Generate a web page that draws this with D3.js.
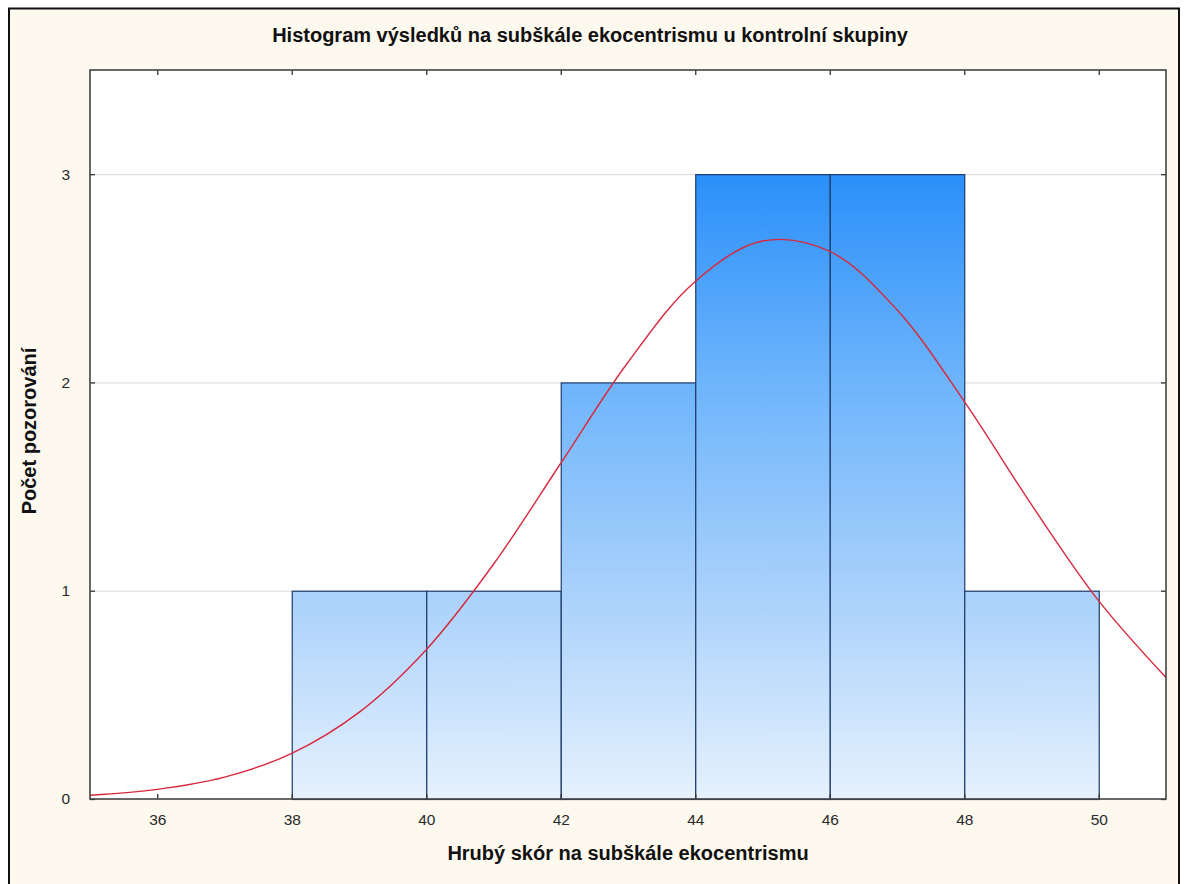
<!DOCTYPE html>
<html><head><meta charset="utf-8">
<script src="https://cdn.jsdelivr.net/npm/d3@7/dist/d3.min.js"></script>
<style>body{margin:0;background:#fff}svg{display:block}text{font-family:"Liberation Sans",Arial,sans-serif}.tk text{font-size:15.5px}</style>
</head><body><svg id="c" width="1184" height="884"></svg>
<script>
const binStarts = [38, 40, 42, 44, 46, 48];
const binCounts = [1, 1, 2, 3, 3, 1];
const binWidth = 2;
const xTicks = [36, 38, 40, 42, 44, 46, 48, 50];
const yTicks = [0, 1, 2, 3];
const curveX = [35,36,37,38,39,40,41,42,43,44,45,46,47,48,49,50,51];
const curveY = [0.018,0.046,0.105,0.219,0.416,0.717,1.127,1.612,2.097,2.485,2.679,2.629,2.349,1.909,1.413,0.951,0.583];
const title = "Histogram výsledků na subškále ekocentrismu u kontrolní skupiny";
const xLabel = "Hrubý skór na subškále ekocentrismu";
const yLabel = "Počet pozorování";

const svg = d3.select("#c");
const L = 90, R = 1166, T = 70, B = 799;
const x = d3.scaleLinear().domain([35, 51]).range([L, R]);
const y = d3.scaleLinear().domain([0, 3.5]).range([B, T]);

svg.append("rect").attr("x", 0).attr("y", 0).attr("width", 1184).attr("height", 884).attr("fill", "#fff");
svg.append("rect").attr("x", 9).attr("y", 8.5).attr("width", 1170).attr("height", 890)
  .attr("fill", "#fdf9ef").attr("stroke", "#111").attr("stroke-width", 2);

const defs = svg.append("defs");
const g = defs.append("linearGradient").attr("id", "bg").attr("gradientUnits", "userSpaceOnUse")
  .attr("x1", 0).attr("x2", 0).attr("y1", y(3)).attr("y2", y(0));
g.append("stop").attr("offset", "0%").attr("stop-color", "#2a8ffa");
g.append("stop").attr("offset", "33%").attr("stop-color", "#6db4fb");
g.append("stop").attr("offset", "67%").attr("stop-color", "#a9d1fb");
g.append("stop").attr("offset", "100%").attr("stop-color", "#e6f1fd");

svg.append("rect").attr("x", L).attr("y", T).attr("width", R - L).attr("height", B - T).attr("fill", "#fff");

svg.append("g").selectAll("line").data(yTicks.filter(d => d > 0)).join("line")
  .attr("x1", L).attr("x2", R).attr("y1", d => y(d) + 0.5).attr("y2", d => y(d) + 0.5)
  .attr("stroke", "#d9d9d9").attr("stroke-width", 1);

svg.append("g").selectAll("rect").data(binStarts).join("rect")
  .attr("x", (d) => x(d) + 0.5)
  .attr("y", (d, i) => y(binCounts[i]) + 0.5)
  .attr("width", d => x(d + binWidth) - x(d))
  .attr("height", (d, i) => y(0) - y(binCounts[i]))
  .attr("fill", "url(#bg)").attr("stroke", "#1d3b6b").attr("stroke-width", 1.2);

const pts = curveX.map((d, i) => [x(d), y(curveY[i])]);
svg.append("path").attr("d", d3.line().curve(d3.curveCatmullRom)(pts))
  .attr("fill", "none").attr("stroke", "#d8283e").attr("stroke-width", 1.4);

// axes
const axB = d3.axisBottom(x).tickValues(xTicks).tickSize(-5).tickPadding(15).tickFormat(d3.format("d"));
const axT = d3.axisTop(x).tickValues(xTicks).tickSize(-5).tickFormat("");
const axL = d3.axisLeft(y).tickValues(yTicks).tickSize(-5).tickPadding(20).tickFormat(d3.format("d"));
const axR = d3.axisRight(y).tickValues(yTicks).tickSize(-5).tickFormat("");
function styleAxis(sel){
  sel.attr("font-size", 15.5).attr("font-family", null).attr("class", "tk");
  sel.select(".domain").remove();
  sel.selectAll("line").attr("stroke", "#333").attr("stroke-width",1.3);
  sel.selectAll("text").attr("font-size", 15.5).attr("fill", "#2a2a2a");
}
svg.append("g").attr("transform", `translate(0,${B})`).call(axB).call(styleAxis);
svg.append("g").attr("transform", `translate(0,${T})`).call(axT).call(styleAxis);
svg.append("g").attr("transform", `translate(${L},0)`).call(axL).call(styleAxis);
svg.append("g").attr("transform", `translate(${R},0)`).call(axR).call(styleAxis);

svg.append("rect").attr("x", L).attr("y", T).attr("width", R - L).attr("height", B - T)
  .attr("fill", "none").attr("stroke", "#444").attr("stroke-width", 1.6);

svg.append("text").attr("x", 590).attr("y", 42).attr("text-anchor", "middle")
  .style("font-size", "20px").attr("font-weight", "bold").attr("fill", "#111").text(title);
svg.append("text").attr("x", 628).attr("y", 860).attr("text-anchor", "middle")
  .style("font-size", "20px").attr("font-weight", "bold").attr("fill", "#111").text(xLabel);
svg.append("text").attr("transform", `translate(36,431) rotate(-90)`).attr("text-anchor", "middle")
  .style("font-size", "20px").attr("font-weight", "bold").attr("fill", "#111").text(yLabel);
</script></body></html>
